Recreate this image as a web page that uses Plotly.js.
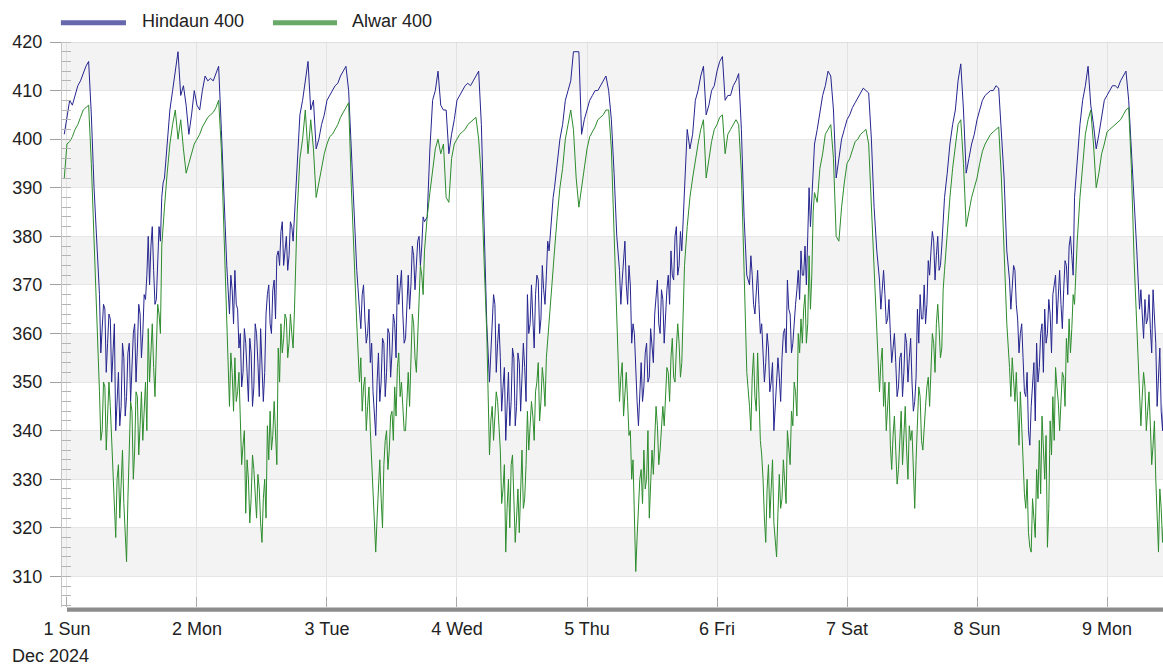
<!DOCTYPE html>
<html>
<head>
<meta charset="utf-8">
<script src="https://cdn.plot.ly/plotly-3.0.1.min.js"></script>
<style>
html, body { margin: 0; padding: 0; background: #ffffff; }
#chart { width: 1163px; height: 666px; }
</style>
</head>
<body>
<div id="chart"></div>
<script>
// ---------------- DATA ----------------
const seriesNames = ['Hindaun 400', 'Alwar 400'];
const dayDates  = ['2024-12-01','2024-12-02','2024-12-03','2024-12-04','2024-12-05','2024-12-06','2024-12-07','2024-12-08','2024-12-09'];
const dayLabels = ['1 Sun','2 Mon','3 Tue','4 Wed','5 Thu','6 Fri','7 Sat','8 Sun','9 Mon'];
const monthLabel = 'Dec 2024';
const firstSampleTime = '2024-11-30 23:30';
// half-hourly samples from 00:00 of each day
// extra in-between samples (06:15, 06:45, ... 17:45) for the noisy daytime troughs
const troughStartMinutes = 375;

const hindaunNov30 = [401];
const hindaunDec01 = [405,408,407,409,411,412,413.5,415,416,405,390,379,
                      368,361,365,358,363,356,340,352,345,355,347,358,
                      352,362,357,364,360,367,380,378,373,367,382,388,
                      392,399,406,410,414,418,409,411,407,401,405,410];
const hindaunDec02 = [407,406,410,413,412,412.5,412,413.5,415,402,386,374,
                      364,369,373,365,360,352,358,346,356,349,360,347,
                      355,352,368,362,369,363,377,381,374,380,376,382,
                      384,395,405,408,412,416,406,408,398,400,403,405];
const hindaunDec03 = [408,409,410,411,411.5,413,414,415,410,398,386,373,
                      365,368,363,360,354,348,339,356,350,358,352,360,
                      356,362,372,369,364,359,372,370,376,373,380,378,
                      383,384,398,408,410,414,407,406,406,397,401,404];
const hindaunDec04 = [408,409,410,411,411.5,411,412,413,414,403,384,362,
                      350,362,366,358,355,349,338,352,346,355,345,354,
                      350,353,368,362,363,368,371,363,369,372,377,384,
                      390,395,400,403,408,410,412,418,418,418,401,404];
const hindaunDec05 = [406,408,409,410,410,411,412,413,410,404,393,380,
                      373,371,379,366,370,362,352,341,354,349,358,351,
                      358,364,371,360,367,364,372,377,371,382,374,377,
                      390,402,398,401,408,410,413,415,405,407,410,411];
const hindaunDec06 = [414,416,417,408,409,409,411,412,413.5,402,384,372,
                      370,372,364,373,360,356,354,357,350,340,348,351,
                      355,361,371,364,358,366,373,377,372,370,390,388,
                      399,402,406,409,411,414,413,406,392,396,400,402];
const hindaunDec07 = [404,405,406.5,407.5,408.5,409.5,410.5,410,409.5,400,386,377,
                      371,369,368,363,360,357,354,349,356,352,358,355,
                      350,346,365,368,363,362,375,377,379,376,373,378,
                      388,393,399,403,406,412,415.5,406,393,396,399,401];
const hindaunDec08 = [404,406,408,409,409.5,410,410,411,410.5,402,392,377,
                      371,369,373,363,360,355,347,340,345,354,358,353,
                      362,365,360,364,368,372,368,366,369,374,378,376,
                      388,396,403,408,411,415,407,403,398,401,405,408];
const hindaunDec09 = [409,410,411,411,410.5,412,413,414,408,398,389,377,
                      365,364,367,363,361,369,358,350,344,348];

const hindaunTroughDec01 = [356,366,352,364,350,362,348,341,358,343,356,346,360,350,366,355,368,372,370,382,366,375,379,391];
const hindaunTroughDec02 = [372,362,366,357,349,361,350,359,345,362,354,361,346,364,370,360,371,376,374,383,378,373,383,379];
const hindaunTroughDec03 = [361,370,358,365,358,342,350,346,359,347,361,351,364,355,366,373,358,366,365,378,369,379,374,384];
const hindaunTroughDec04 = [357,368,352,362,344,353,346,341,357,341,356,344,358,346,360,370,357,372,360,374,366,379,381,388];
const hindaunTroughDec05 = [366,376,370,374,358,360,346,349,346,356,350,361,354,368,362,369,358,369,366,372,380,372,381,383];
const hindaunTroughDec06 = [376,366,370,366,362,350,360,348,354,345,355,346,360,356,365,356,363,369,367,372,378,380,382,395];
const hindaunTroughDec07 = [365,373,362,367,354,360,347,355,347,360,350,359,344,351,358,363,370,366,372,381,371,380,374,383];
const hindaunTroughDec08 = [365,374,366,356,362,348,352,337,350,342,350,360,352,358,367,356,370,362,373,361,375,368,380,372];
const hindaunTroughDec09 = [369,359,362,368,356,362,345,357,340];

const alwarNov30 = [392];
const alwarDec01 = [399,399.5,400.5,402,403,404.5,406,406.5,407,395,380,362,
                    348,340,349,343,345,334,318,333,328,325,313,334,
                    344,336,347,341,338,350,361,356,353,357,364,378,
                    386,393,399,403,406,400,404,398,393,395,397,399];
const alwarDec02 = [400,401,402.5,403.5,404.5,405,405.5,406.5,408,398,380,360,
                    345,352,355,348,344,337,323,330,326,332,322,328,
                    317,330,341,344,339,337,357,362,359,363,358,360,
                    365,385,396,400,406,397,404,398,388,391,394,397];
const alwarDec03 = [399,400.5,401,402,403,404.5,405.5,406.5,407.5,390,375,362,
                    350,344,351,345,340,326,315,329,326,333,340,336,
                    344,349,353,347,345,340,352,358,362,352,369,372,
                    377,384,389,393,398,400,397,399,388,387,396,399];
const alwarDec04 = [400,401,401.5,402,403,403.5,404,404.5,400,392,375,360,
                    335,345,343,346,336,328,315,330,333,325,322,319,
                    336,326,344,341,343,348,354,346,350,355,362,369,
                    377,384,390,394,400,403,406,402,392,386,390,395];
const alwarDec05 = [398,400.5,401.5,402.5,404,404.5,405,406,406,398,380,362,
                    346,354,349,346,340,334,311,323,332,336,330,322,
                    336,340,341,336,345,348,352,355,351,357,358,354,
                    374,382,388,392,396,399,402,404,392,396,399.5,402];
const alwarDec06 = [403,404.5,405,397,401,402,403,404,403,393,373,352,
                    345,351,347,356,338,330,317,333,328,321,314,331,
                    326,330,340,333,341,348,360,363,365,358,376,372,
                    389,387,394,397,401,402,403,396,380,379,386,391];
const alwarDec07 = [395,396,398,399.5,400,401,401.5,402,399,386,372,358,
                    348,357,350,344,337,339,336,332,344,339,336,341,
                    340,324,341,347,336,345,351,355,358,362,361,357,
                    373,381,388,394,399,403,404,395,382,385,388,390];
const alwarDec08 = [392,395,397.5,399,400,401,401.5,402,402.5,392,375,362,
                    353,355,346,342,348,333,324,319,315,322,332,338,
                    343,330,316,342,347,353,346,345,351,359,363,361,
                    366,379,388,395,401,404,406,399,390,393,397,399];
const alwarDec09 = [401.5,402,402.5,403,403.5,404,405,406,406.5,394,375,362,
                    348,347,349,344,341,337,330,315,324,322];

const alwarTroughDec01 = [338,350,336,350,338,326,330,322,336,320,326,346,330,348,335,348,345,340,350,362,347,366,360,383];
const alwarTroughDec02 = [356,344,346,352,333,340,334,321,335,327,331,321,326,322,334,336,346,333,350,356,364,355,364,357];
const alwarTroughDec03 = [355,349,340,349,334,320,322,334,320,338,332,343,338,343,356,350,340,347,345,364,355,360,374,368];
const alwarTroughDec04 = [342,338,348,340,325,333,324,320,335,317,328,327,324,333,336,346,338,350,342,353,345,359,366,374];
const alwarTroughDec05 = [351,343,352,339,330,322,318,330,325,328,340,329,331,345,333,342,341,353,346,359,350,362,351,365];
const alwarTroughDec06 = [340,356,344,346,335,322,328,322,334,318,323,324,334,325,336,344,350,343,356,358,368,362,365,385];
const alwarTroughDec07 = [354,345,340,350,332,343,329,338,333,345,330,338,331,334,349,338,342,349,345,360,352,366,355,369];
const alwarTroughDec08 = [347,349,352,337,340,327,330,316,326,318,326,327,334,339,324,335,338,349,340,352,345,354,356,368];
const alwarTroughDec09 = [341,352,340,348,333,342,320,328,317];

// ---------------- BUILD SERIES ----------------
function two(n) { return (n < 10 ? '0' : '') + n; }
function stamp(date, mins) { return date + ' ' + two(Math.floor(mins / 60)) + ':' + two(mins % 60); }
function buildSeries(firstValues, dayArrays, troughArrays) {
  const pts = [];
  firstValues.forEach(v => pts.push([firstSampleTime, v]));
  dayArrays.forEach((arr, d) => arr.forEach((v, i) => pts.push([stamp(dayDates[d], i * 30), v])));
  troughArrays.forEach((arr, d) => arr.forEach((v, i) => pts.push([stamp(dayDates[d], troughStartMinutes + i * 30), v])));
  pts.sort((a, b) => (a[0] < b[0] ? -1 : a[0] > b[0] ? 1 : 0));
  return { x: pts.map(p => p[0]), y: pts.map(p => p[1]) };
}
const hindaun = buildSeries(hindaunNov30,
  [hindaunDec01, hindaunDec02, hindaunDec03, hindaunDec04, hindaunDec05, hindaunDec06, hindaunDec07, hindaunDec08, hindaunDec09],
  [hindaunTroughDec01, hindaunTroughDec02, hindaunTroughDec03, hindaunTroughDec04, hindaunTroughDec05, hindaunTroughDec06, hindaunTroughDec07, hindaunTroughDec08, hindaunTroughDec09]);
const alwar = buildSeries(alwarNov30,
  [alwarDec01, alwarDec02, alwarDec03, alwarDec04, alwarDec05, alwarDec06, alwarDec07, alwarDec08, alwarDec09],
  [alwarTroughDec01, alwarTroughDec02, alwarTroughDec03, alwarTroughDec04, alwarTroughDec05, alwarTroughDec06, alwarTroughDec07, alwarTroughDec08, alwarTroughDec09]);

const FONT = 'Liberation Sans, Arial, Helvetica, sans-serif';
const blue = '#25258f', green = '#2d8c2d';
const legendBlue = '#6767ad', legendGreen = '#68a968';

const traces = [
  { type: 'scatter', mode: 'lines', name: seriesNames[0], x: hindaun.x, y: hindaun.y,
    line: { color: blue, width: 1 }, hoverinfo: 'x+y' },
  { type: 'scatter', mode: 'lines', name: seriesNames[1], x: alwar.x, y: alwar.y,
    line: { color: green, width: 1 }, hoverinfo: 'x+y' }
];

// alternating background bands
const shapes = [];
for (let v = 310; v < 420; v += 20) {
  shapes.push({ type: 'rect', xref: 'paper', yref: 'y', x0: 0, x1: 1, y0: v, y1: v + 10,
    fillcolor: '#f3f3f3', line: { width: 0 }, layer: 'below' });
}
// top border
shapes.push({ type: 'line', xref: 'paper', yref: 'y', x0: 0, x1: 1, y0: 420, y1: 420,
  line: { color: '#cccccc', width: 1 } });
// thick grey bar under the plot (from first day on)
shapes.push({ type: 'rect', xref: 'x', yref: 'paper', x0: dayDates[0] + ' 00:00', x1: '2024-12-09 10:20',
  y0: -0.0085, y1: -0.001, fillcolor: '#8c8c8c', line: { width: 0 }, layer: 'above' });
// custom legend swatches
shapes.push({ type: 'line', xref: 'paper', yref: 'paper', x0: -0.001, x1: 0.0581, y0: 1.0342, y1: 1.0342,
  line: { color: legendBlue, width: 5 } });
shapes.push({ type: 'line', xref: 'paper', yref: 'paper', x0: 0.1916, x1: 0.2498, y0: 1.0342, y1: 1.0342,
  line: { color: legendGreen, width: 5 } });

const annotations = [
  { text: seriesNames[0], xref: 'paper', yref: 'paper', x: 0.0708, y: 1.038, xanchor: 'left', yanchor: 'middle',
    showarrow: false, font: { family: FONT, size: 18, color: '#222' } },
  { text: seriesNames[1], xref: 'paper', yref: 'paper', x: 0.2616, y: 1.038, xanchor: 'left', yanchor: 'middle',
    showarrow: false, font: { family: FONT, size: 18, color: '#222' } },
  { text: monthLabel, xref: 'paper', yref: 'paper', x: -0.0475, y: -0.0867, xanchor: 'left', yanchor: 'middle',
    showarrow: false, font: { family: FONT, size: 18, color: '#222' } }
];

const layout = {
  width: 1163, height: 666,
  margin: { l: 62, r: 0, t: 42, b: 59, pad: 0 },
  paper_bgcolor: '#ffffff', plot_bgcolor: '#ffffff',
  showlegend: false,
  font: { family: FONT, size: 18, color: '#222' },
  xaxis: {
    type: 'date',
    range: ['2024-11-30 23:05', '2024-12-09 10:20'],
    tickmode: 'array',
    tickvals: dayDates.map(d => d + ' 00:00'),
    ticktext: dayLabels,
    ticks: 'inside', ticklen: 10, tickcolor: '#aaaaaa', tickwidth: 1,
    showgrid: true, gridcolor: '#e2e2e2', gridwidth: 1,
    showline: false, zeroline: false,
    ticklabelstandoff: 9,
    tickfont: { family: FONT, size: 18, color: '#222' },
    fixedrange: true
  },
  yaxis: {
    range: [303.7, 420],
    tickmode: 'linear', tick0: 0, dtick: 10,
    ticks: 'outside', ticklen: 11, tickcolor: '#a0a0a0', tickwidth: 1,
    minor: { dtick: 2, ticks: 'inside', ticklen: 9, tickcolor: '#b4b4b4', showgrid: false },
    showgrid: true, gridcolor: '#e6e6e6', gridwidth: 1,
    showline: true, linecolor: '#c4c4c4', linewidth: 1,
    zeroline: false,
    ticklabelstandoff: 4,
    tickfont: { family: FONT, size: 18, color: '#222' },
    fixedrange: true
  },
  shapes: shapes,
  annotations: annotations
};

Plotly.newPlot('chart', traces, layout, { displayModeBar: false, staticPlot: true });
</script>
</body>
</html>
